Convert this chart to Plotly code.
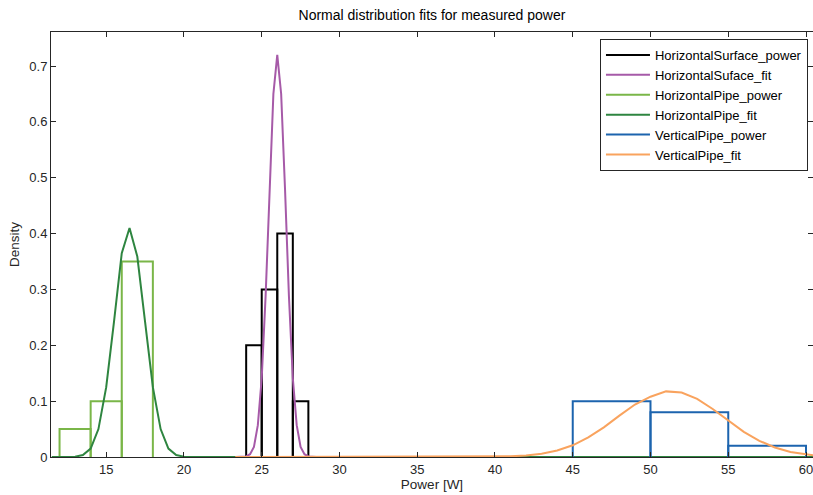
import plotly.graph_objects as go

# ---- data ----
hs_edges = [24, 25, 26, 27, 28]
hs_density = [0.2, 0.3, 0.4, 0.1]

hp_edges = [12, 14, 16, 18]
hp_density = [0.05, 0.1, 0.35]

vp_edges = [45, 50, 55, 60]
vp_density = [0.1, 0.08, 0.02]

hs_fit_x = [23.3, 23.5, 23.75, 24.0, 24.25, 24.5, 24.75, 25.0, 25.25, 25.5, 25.75, 26.0,
            26.25, 26.5, 26.75, 27.0, 27.25, 27.5, 27.75, 28.0, 28.5]
hs_fit_y = [0.0, 0.0, 0.0005, 0.001, 0.005, 0.018, 0.057, 0.141, 0.288, 0.479, 0.650, 0.72,
            0.650, 0.479, 0.288, 0.141, 0.057, 0.018, 0.005, 0.001, 0.0]

hp_fit_x = [11.5, 12.5, 13.0, 13.5, 14.0, 14.5, 15.0, 15.5, 16.0, 16.5, 17.0, 17.5, 18.0,
            18.5, 19.0, 19.5, 20.0, 21.0, 60.5]
hp_fit_y = [0.0, 0.0, 0.0006, 0.0035, 0.015, 0.050, 0.125, 0.242, 0.365, 0.41, 0.359, 0.242,
            0.125, 0.050, 0.015, 0.0035, 0.0006, 0.0, 0.0]

vp_fit_x = [23.3, 38.0, 40, 41, 42, 43, 44, 45, 46, 47, 48, 49, 50, 51, 52, 53, 54, 55, 56,
            57, 58, 59, 60, 60.5]
vp_fit_y = [0.0, 0.0, 0.0005, 0.0012, 0.0028, 0.006, 0.0117, 0.021, 0.035, 0.053, 0.074,
            0.094, 0.108, 0.1175, 0.1155, 0.104, 0.086, 0.065, 0.045, 0.029, 0.017, 0.009,
            0.0045, 0.003]

x_ticks = [15, 20, 25, 30, 35, 40, 45, 50, 55, 60]
y_ticks = [0, 0.1, 0.2, 0.3, 0.4, 0.5, 0.6, 0.7]
y_tick_labels = ["0", "0.1", "0.2", "0.3", "0.4", "0.5", "0.6", "0.7"]


def outline(edges, heights):
    xs, ys = [], []
    for i, h in enumerate(heights):
        xs += [edges[i], edges[i], edges[i + 1], edges[i + 1], None]
        ys += [0, h, h, 0, None]
    return xs, ys


C_HS = "#000000"
C_HSF = "#a65aa8"
C_HP = "#7ab648"
C_HPF = "#2e8540"
C_VP = "#1c64ae"
C_VPF = "#f9a35e"

fig = go.Figure()
x, y = outline(hs_edges, hs_density)
fig.add_trace(go.Scatter(x=x, y=y, mode="lines", name="HorizontalSurface_power",
                         line=dict(color=C_HS, width=2)))
fig.add_trace(go.Scatter(x=hs_fit_x, y=hs_fit_y, mode="lines", name="HorizontalSuface_fit",
                         line=dict(color=C_HSF, width=2)))
x, y = outline(hp_edges, hp_density)
fig.add_trace(go.Scatter(x=x, y=y, mode="lines", name="HorizontalPipe_power",
                         line=dict(color=C_HP, width=2)))
fig.add_trace(go.Scatter(x=hp_fit_x, y=hp_fit_y, mode="lines", name="HorizontalPipe_fit",
                         line=dict(color=C_HPF, width=2)))
x, y = outline(vp_edges, vp_density)
fig.add_trace(go.Scatter(x=x, y=y, mode="lines", name="VerticalPipe_power",
                         line=dict(color=C_VP, width=2)))
fig.add_trace(go.Scatter(x=vp_fit_x, y=vp_fit_y, mode="lines", name="VerticalPipe_fit",
                         line=dict(color=C_VPF, width=2)))

font = "Liberation Sans, Arial, sans-serif"
axis_common = dict(showline=True, linecolor="#262626", linewidth=1, mirror="ticks",
                   ticks="inside", ticklen=5, tickcolor="#262626", showgrid=False,
                   zeroline=False, automargin=False, ticklabeloverflow="allow",
                   tickfont=dict(family=font, size=13, color="#262626"))

fig.update_layout(
    width=813, height=495,
    margin=dict(l=51, r=0, t=32, b=38, autoexpand=False),
    paper_bgcolor="white", plot_bgcolor="white",
    font=dict(family=font, size=13, color="#262626"),
    title=dict(text="Normal distribution fits for measured power", x=0.5, xref="paper",
               y=1 - 15 / 495, yref="container", yanchor="middle", xanchor="center",
               font=dict(family=font, size=14, color="#000000")),
    xaxis=dict(range=[11.45, 60.45], tickvals=x_ticks,
               title=dict(text="Power [W]", standoff=2, font=dict(size=13.5)), **axis_common),
    yaxis=dict(range=[0, 0.761], tickvals=y_ticks, ticktext=y_tick_labels,
               title=dict(text="Density", standoff=6, font=dict(size=13.5)), **axis_common),
    legend=dict(x=0.9934, y=0.9835, xanchor="right", yanchor="top",
                bordercolor="#262626", borderwidth=1, bgcolor="white",
                font=dict(family=font, size=13, color="#000000"),
                tracegroupgap=0, itemwidth=44),
    showlegend=True,
)

fig.write_html(
    "out.html",
    config={"displayModeBar": False},
    post_script="document.body.style.margin='0';document.body.style.overflow='hidden';",
)
